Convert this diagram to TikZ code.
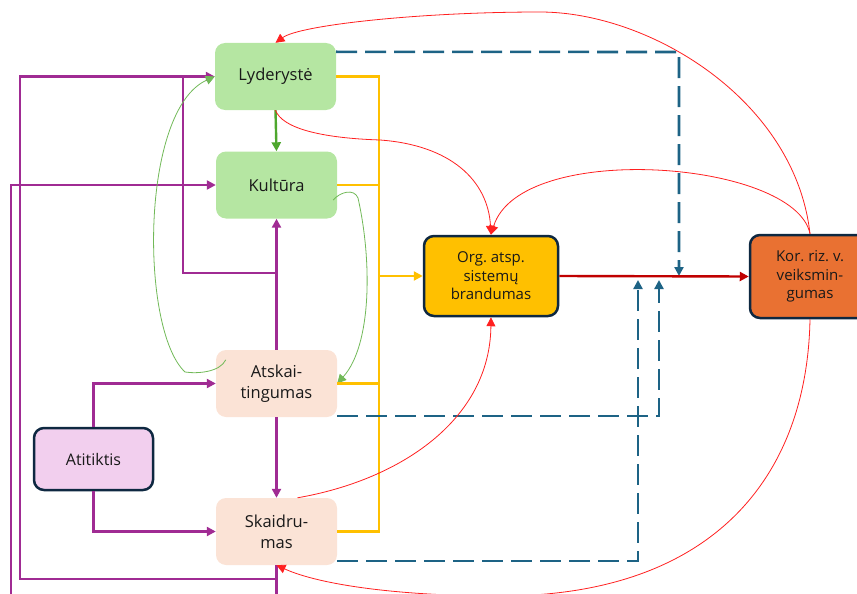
\documentclass[tikz,border=0pt]{standalone}
\usepackage{fontspec}
\setmainfont{Open Sans}
\usetikzlibrary{arrows.meta,calc}

\definecolor{boxgreen}{HTML}{B5E6A2}
\definecolor{boxpeach}{HTML}{FBE3D6}
\definecolor{boxpink}{HTML}{F2CFEE}
\definecolor{boxyellow}{HTML}{FFC000}
\definecolor{boxorange}{HTML}{E97132}
\definecolor{navy}{HTML}{0E2841}
\definecolor{purp}{HTML}{A02B93}
\definecolor{grn}{HTML}{4EA72E}
\definecolor{yel}{HTML}{FFC000}
\definecolor{dblue}{HTML}{1D6385}
\definecolor{dred}{HTML}{C00000}
\definecolor{lred}{HTML}{FF2020}

\tikzset{
  tip/.style={-{Triangle[length=9pt,width=9pt]}},
  basebox/.style={rounded corners=10pt, align=center, font=\fontsize{16.5}{21}\selectfont\frenchspacing,
    text=black!90, inner sep=0pt},
  greenbox/.style={basebox, fill=boxgreen, minimum width=121pt, minimum height=67pt},
  peachbox/.style={basebox, fill=boxpeach, minimum width=121pt, minimum height=67pt},
  atibox/.style={basebox, fill=boxpink, draw=navy, line width=2.5pt, minimum width=119pt, minimum height=62pt,
    font=\fontsize{16}{21}\selectfont},
  orgbox/.style={basebox, fill=boxyellow, draw=navy, line width=2.5pt, minimum width=134pt, minimum height=80pt,
    font=\fontsize{15}{18.5}\selectfont\frenchspacing},
  korbox/.style={basebox, fill=boxorange, draw=navy, line width=2.5pt, minimum width=120pt, minimum height=83pt,
    font=\fontsize{15}{18.5}\selectfont\frenchspacing},
  purpline/.style={draw=purp, line width=2.6pt},
  grnline/.style={draw=grn, line width=2.4pt},
  grnthin/.style={draw=grn!80, line width=0.8pt},
  yelline/.style={draw=yel, line width=2.6pt},
  dashline/.style={draw=dblue, line width=2.6pt, dash pattern=on 21pt off 8pt},
  dredline/.style={draw=dred, line width=2.4pt},
  redthin/.style={draw=lred, line width=0.8pt},
}

\begin{document}
\begin{tikzpicture}[x=1pt,y=-1pt]
\useasboundingbox (0,0) rectangle (857,594);
\clip (0,0) rectangle (857,594);

% boxes
\node[greenbox] (lyd) at (275.5,76.5) {Lyderystė};
\node[greenbox] (kul) at (276.5,185) {Kultūra};
\node[peachbox] (ats) at (276.5,383.5) {Atskai-\\tingumas};
\node[peachbox] (ska) at (276.5,531.5) {Skaidru-\\mas};
\node[atibox] (ati) at (93.5,459) {Atitiktis};
\node[orgbox] (org) at (491,276) {Org. atsp.\\sistemų\\brandumas};
\node[korbox] (kor) at (810,276.5) {Kor. riz. v.\\veiksmin-\\gumas};

% bend points
\coordinate (bl) at (20,579);
\coordinate (bk) at (11,620);
\coordinate (jl) at (183,273);
\coordinate (ybus) at (379,276);
\coordinate (d1) at (679,52);
\coordinate (d2) at (659,416);
\coordinate (d3) at (638,561);

% purple links
\draw[purpline,tip] (ska.south) |- (bl) |- (lyd.west);
\draw[purpline,tip] (ska.south) |- (bk) |- (kul.west);
\draw[purpline,tip] (ats.north) -- (kul.south);
\draw[purpline] (ats.north |- jl) -| (lyd.west -| jl);
\draw[purpline,tip] (ats.south) -- (ska.north);
\draw[purpline,tip] (ati.north) |- (ats.west);
\draw[purpline,tip] (ati.south) |- (ska.west);

% green links
\draw[grnline,tip] (lyd.south) -- (kul.north);
\draw[grnthin,-{Triangle[length=9pt,width=9pt]}] ($(ats.north west)+(10,10)$)
  .. controls (220,372) and (198,374) .. (185,372)
  .. controls (140,330) and (140,110) .. (lyd.west);
\draw[grnthin,-{Triangle[length=9pt,width=9pt]}] ($(kul.east)+(-4,15)$)
  .. controls (340,192) and (354,188) .. (358,198)
  .. controls (372,260) and (372,345) .. (ats.east);

% yellow bus
\draw[yelline] (lyd.east) -- (lyd.east -| ybus) -- (ska.east -| ybus) -- (ska.east);
\draw[yelline] (kul.east) -- (kul.east -| ybus);
\draw[yelline] (ats.east) -- (ats.east -| ybus);
\draw[yelline,tip] (ybus) -- (org.west);

% dashed links
\draw[dashline,tip] ($(lyd.north east)+(0,9)$) -- (d1) -- (d1 |- org.east);
\draw[dashline,tip] (ats.east |- d2) -- (d2) -- ($(d2 |- org.east)+(0,4)$);
\draw[dashline,tip] (ska.east |- d3) -- (d3) -- ($(d3 |- org.east)+(0,4)$);

% main outcome link
\draw[dredline,tip] (org.east) -- (kor.west);

% feedback curves
\draw[redthin,tip] (kor.north) .. controls (795,100) and (650,12) .. (540,12)
  .. controls (420,12) and (300,25) .. (lyd.north);
\draw[redthin,tip] (kor.north) .. controls (795,160) and (520,140) .. (org.north);
\draw[redthin,tip] (lyd.south) .. controls (282,128) and (320,138) .. (380,140)
  .. controls (450,145) and (488,180) .. (org.north);
\draw[redthin,tip] ($(ska.north)+(21,0)$) .. controls (400,480) and (490,420) .. (org.south);
\draw[redthin,tip] (kor.south) .. controls (807,480) and (710,596) .. (500,596)
  .. controls (400,596) and (320,585) .. (ska.south);
\end{tikzpicture}
\end{document}
